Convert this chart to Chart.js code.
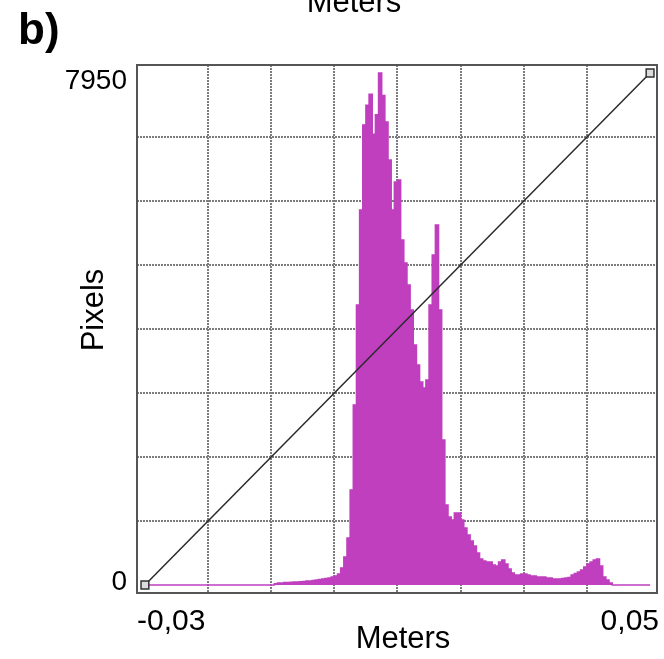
<!DOCTYPE html>
<html>
<head>
<meta charset="utf-8">
<script src="https://cdn.jsdelivr.net/npm/chart.js@4.4.1/dist/chart.umd.min.js"></script>
<style>
  html, body { margin: 0; padding: 0; background: #fff; }
  #wrap { width: 664px; height: 659px; }
</style>
</head>
<body>
<div id="wrap"><canvas id="histo" width="664" height="659"></canvas></div>
<script>
// --- histogram bins (meters) : first edge, width, counts ---
const binStart = -0.03;
const binWidth = 0.0005;
const counts = [
  0, 0, 0, 0, 0, 0, 0, 0, 0, 0,
  0, 0, 0, 0, 0, 0, 0, 0, 0, 0,
  0, 0, 0, 0, 0, 0, 0, 0, 0, 0,
  0, 0, 0, 0, 0, 0, 0, 0, 0, 0,
  0,
  20, 31, 31, 39, 39, 42, 47, 47, 50, 54,
  62, 62, 70, 78, 85, 93, 101, 109, 124, 140,
  171, 264, 435, 730, 1475, 2795, 4348, 5823, 7142, 7450,
  7620, 7000, 7300, 7950, 7600, 7190, 6600, 5823, 6257, 6290,
  5357, 5000, 4658, 4270, 3726, 3416, 3152, 3059, 3183, 4348,
  5124, 5590, 4270, 2251, 1242, 1056, 1009, 1118, 1118, 1009,
  885, 776, 683, 606, 497, 404, 373, 357, 357, 311,
  295, 357, 388, 326, 248, 186, 155, 155, 171, 171,
  155, 140, 140, 124, 124, 124, 109, 109, 93, 93,
  93, 101, 109, 116, 155, 179, 202, 233, 280, 326,
  357, 388, 404, 295, 124, 78, 31, 0, 0, 0,
  0, 0, 0, 0, 0, 0, 0, 0, 0
];

// --- diagonal transfer line ---
const diagX = [-0.03, 0.05];
const diagY = [0, 7950];

// --- grid / tick values ---
const xTickValues = [-0.03, -0.02, -0.01, 0, 0.01, 0.02, 0.03, 0.04, 0.05];
const yTickValues = [0, 993.75, 1987.5, 2981.25, 3975, 4968.75, 5962.5, 6956.25, 7950];
const xTickLabels = ["-0,03", "0,05"];
const yTickLabels = ["0", "7950"];

const FONT = '"Liberation Sans", Arial, sans-serif';

const histPoints = counts.map((c, i) => ({ x: binStart + i * binWidth, y: c }));
histPoints.push({ x: binStart + counts.length * binWidth, y: 0 });

const diagPoints = diagX.map((x, i) => ({ x, y: diagY[i] }));

const isEnd = (vals, v) => v === vals[0] || v === vals[vals.length - 1];

// --- cadre + textes ---
const decor = {
  id: "decor",
  afterDatasetsDraw(chart) {
    const { ctx, chartArea: a } = chart;
    ctx.save();
    ctx.strokeStyle = "#555";
    ctx.lineWidth = 2;
    ctx.strokeRect(a.left, a.top, a.right - a.left, a.bottom - a.top);
    ctx.restore();
  },
  afterDraw(chart) {
    const { ctx, chartArea: a } = chart;
    ctx.save();
    ctx.fillStyle = "#000";
    ctx.textBaseline = "alphabetic";

    // y labels (min at bottom, max at top)
    ctx.font = "28px " + FONT;
    ctx.textAlign = "right";
    ctx.fillText(yTickLabels[0], a.left - 10, a.bottom - 3);
    ctx.fillText(yTickLabels[1], a.left - 10, a.top + 24);

    // x labels (inner alignment)
    ctx.font = "30px " + FONT;
    ctx.textAlign = "left";
    ctx.fillText(xTickLabels[0], a.left, 630);
    ctx.textAlign = "right";
    ctx.fillText(xTickLabels[1], a.right + 2, 630);

    // axis titles
    ctx.font = "31px " + FONT;
    ctx.textAlign = "center";
    ctx.fillText("Meters", 403, 648);
    ctx.fillText("Meters", 354, 12);

    ctx.save();
    ctx.translate(103, 310);
    ctx.rotate(-Math.PI / 2);
    ctx.fillText("Pixels", 0, 0);
    ctx.restore();

    // panel letter
    ctx.font = "bold 44px " + FONT;
    ctx.textAlign = "left";
    ctx.fillText("b)", 18, 44);
    ctx.restore();
  }
};

const gridColor = (vals) => (c) =>
  c.tick && isEnd(vals, c.tick.value) ? "rgba(0,0,0,0)" : "#7c7c7c";

new Chart(document.getElementById("histo").getContext("2d"), {
  type: "line",
  data: {
    datasets: [
      {
        label: "diag",
        data: diagPoints,
        order: 0,
        borderColor: "#2a2a2a",
        borderWidth: 1.5,
        pointStyle: "rect",
        pointRadius: 5.5,
        pointBorderWidth: 1.5,
        pointBorderColor: "#333",
        pointBackgroundColor: "#dcdcdc",
        fill: false
      },
      {
        label: "histogram",
        data: histPoints,
        order: 1,
        stepped: true,
        fill: "origin",
        backgroundColor: "#bf3fbf",
        borderColor: "#bf3fbf",
        borderWidth: 1.5,
        pointRadius: 0
      }
    ]
  },
  options: {
    responsive: false,
    animation: false,
    events: [],
    layout: { padding: { left: 137, top: 65, right: 2, bottom: 66 } },
    plugins: { legend: { display: false }, tooltip: { enabled: false } },
    scales: {
      x: {
        type: "linear",
        min: -0.03 - 8 / 6375,
        max: 0.05 + 7 / 6375,
        afterBuildTicks: (s) => { s.ticks = xTickValues.map((v) => ({ value: v })); },
        ticks: { display: false },
        border: { display: false, dash: [2, 1] },
        grid: { drawTicks: false, lineWidth: 2, color: gridColor(xTickValues) }
      },
      y: {
        type: "linear",
        min: -124.2,
        max: 8074.2,
        afterBuildTicks: (s) => { s.ticks = yTickValues.map((v) => ({ value: v })); },
        ticks: { display: false },
        border: { display: false, dash: [2, 1] },
        grid: { drawTicks: false, lineWidth: 2, color: gridColor(yTickValues) }
      }
    }
  },
  plugins: [decor]
});
</script>
</body>
</html>
